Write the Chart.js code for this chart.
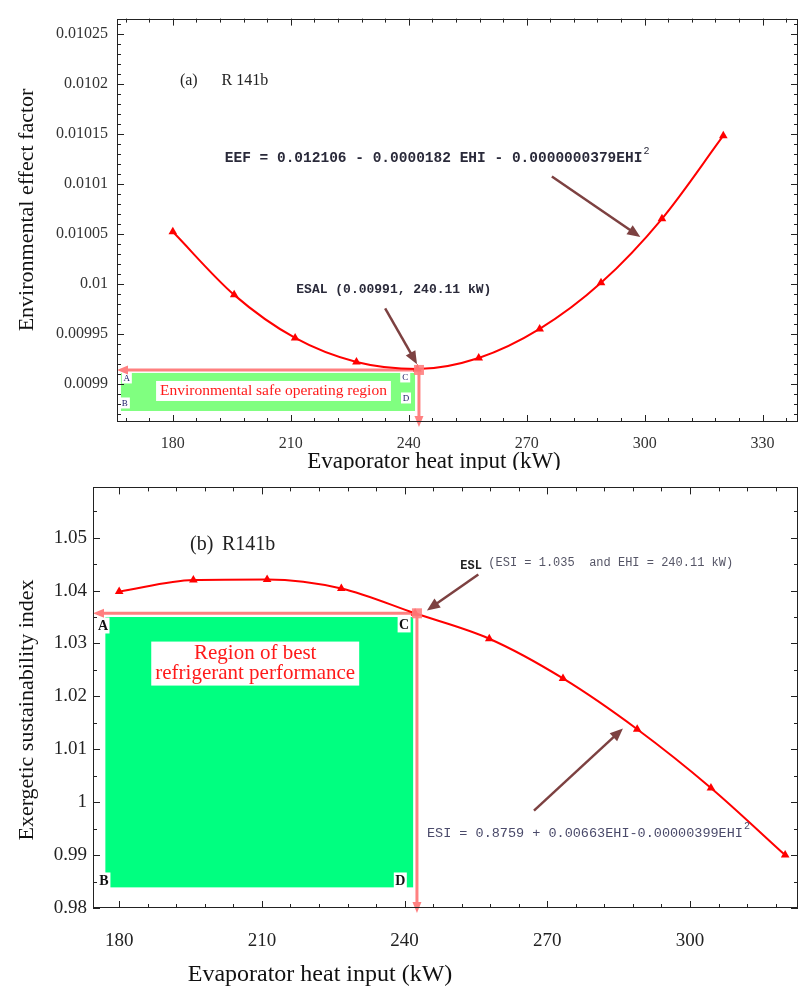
<!DOCTYPE html>
<html>
<head>
<meta charset="UTF-8">
<title>R141b EEF and ESI</title>
<script src="https://cdn.jsdelivr.net/npm/chart.js"></script>
<style>
  body { margin: 0; background: #fff; }
  #wrap { position: relative; width: 803px; height: 994px; }
  canvas { position: absolute; left: 0; }
</style>
</head>
<body>
<div id="wrap">
  <canvas id="eefChart" width="803" height="470" style="top:0px"></canvas>
  <canvas id="esiChart" width="803" height="524" style="top:470px"></canvas>
</div>
<script>
// evaporator heat input (kW), shared by both panels
var heatInput = [180, 195.6, 211.1, 226.7, 242.2, 257.8, 273.3, 288.9, 304.4, 320];
// (a) environmental effect factor
var eefValues = [0.010052, 0.009989, 0.009946, 0.009922, 0.009915, 0.009926, 0.009955, 0.010001, 0.010065, 0.010148];
// (b) exergetic sustainability index
var esiValues = [1.0398, 1.0420, 1.0421, 1.0404, 1.0357, 1.0309, 1.0234, 1.0138, 1.0027, 0.9900];

var eefXTicks = [180, 210, 240, 270, 300, 330];
var eefXLabels = ['180', '210', '240', '270', '300', '330'];
var eefYTicks = [0.0099, 0.00995, 0.01, 0.01005, 0.0101, 0.01015, 0.0102, 0.01025];
var eefYLabels = ['0.0099', '0.00995', '0.01', '0.01005', '0.0101', '0.01015', '0.0102', '0.01025'];

var esiXTicks = [180, 210, 240, 270, 300];
var esiXLabels = ['180', '210', '240', '270', '300'];
var esiYTicks = [0.98, 0.99, 1, 1.01, 1.02, 1.03, 1.04, 1.05];
var esiYLabels = ['0.98', '0.99', '1', '1.01', '1.02', '1.03', '1.04', '1.05'];

// safe operating points
var eefSafePoint = { x: 242.6, y: 0.009914 };
var esiSafePoint = { x: 242.6, y: 1.0357 };

var SERIF = '"Liberation Serif", "DejaVu Serif", serif';
var MONO = '"Liberation Mono", "DejaVu Sans Mono", monospace';

function toPx(chart, x, y) {
    return [chart.scales.x.getPixelForValue(x), chart.scales.y.getPixelForValue(y)];
}

function arrowHead(ctx, x1, y1, x2, y2, len, half, color) {
    var ang = Math.atan2(y2 - y1, x2 - x1);
    ctx.fillStyle = color;
    ctx.beginPath();
    ctx.moveTo(x2, y2);
    ctx.lineTo(x2 - len * Math.cos(ang) + half * Math.sin(ang), y2 - len * Math.sin(ang) - half * Math.cos(ang));
    ctx.lineTo(x2 - len * Math.cos(ang) - half * Math.sin(ang), y2 - len * Math.sin(ang) + half * Math.cos(ang));
    ctx.closePath();
    ctx.fill();
}

function arrow(ctx, p1, p2, color, width) {
    ctx.save();
    ctx.strokeStyle = color;
    ctx.lineWidth = width;
    var ang = Math.atan2(p2[1] - p1[1], p2[0] - p1[0]);
    ctx.beginPath();
    ctx.moveTo(p1[0], p1[1]);
    ctx.lineTo(p2[0] - 8 * Math.cos(ang), p2[1] - 8 * Math.sin(ang));
    ctx.stroke();
    arrowHead(ctx, p1[0], p1[1], p2[0], p2[1], 13, 5.5, color);
    ctx.restore();
}

function text(ctx, str, x, y, font, color, align) {
    ctx.save();
    ctx.font = font;
    ctx.fillStyle = color;
    ctx.textAlign = align || 'left';
    ctx.textBaseline = 'middle';
    ctx.fillText(str, x, y);
    var w = ctx.measureText(str).width;
    ctx.restore();
    return w;
}

function letterBox(ctx, ch, p, size, font, color) {
    ctx.fillStyle = '#fff';
    ctx.fillRect(p[0] - size[0] / 2, p[1] - size[1] / 2, size[0], size[1]);
    text(ctx, ch, p[0], p[1] + 1, font, color, 'center');
}

// frame with inward major and minor ticks on all four sides
var framePlugin = {
    id: 'frame',
    afterDraw: function (chart, args, opts) {
        var ctx = chart.ctx, a = chart.chartArea;
        ctx.save();
        ctx.strokeStyle = '#222';
        ctx.lineWidth = 1;
        ctx.strokeRect(Math.round(a.left) + 0.5, Math.round(a.top) + 0.5,
            Math.round(a.right - a.left) - 1, Math.round(a.bottom - a.top) - 1);
        ['x', 'y'].forEach(function (id) {
            var sc = chart.scales[id];
            var majors = sc.ticks.map(function (t) { return t.value; });
            var step = majors[1] - majors[0];
            var n = opts[id + 'Minor'];
            var minor = step / n;
            for (var k = -3 * n; k <= (majors.length + 3) * n; k++) {
                var v = majors[0] + k * minor;
                if (v < sc.min || v > sc.max) continue;
                var len = (k % n === 0) ? 7 : 4;
                var p = Math.round(sc.getPixelForValue(v)) + 0.5;
                ctx.beginPath();
                if (id === 'x') {
                    ctx.moveTo(p, a.bottom); ctx.lineTo(p, a.bottom - len);
                    ctx.moveTo(p, a.top); ctx.lineTo(p, a.top + len);
                } else {
                    ctx.moveTo(a.left, p); ctx.lineTo(a.left + len, p);
                    ctx.moveTo(a.right, p); ctx.lineTo(a.right - len, p);
                }
                ctx.stroke();
            }
        });
        // axis titles
        var t = opts.titles;
        text(ctx, t.x.text, t.x.cx, t.x.cy, t.x.font, '#111', 'center');
        ctx.save();
        ctx.translate(t.y.cx, t.y.cy);
        ctx.rotate(-Math.PI / 2);
        text(ctx, t.y.text, 0, 0, t.y.font, '#111', 'center');
        ctx.restore();
        ctx.restore();
    }
};

// shaded region, safe-point guide lines and annotations
var regionPlugin = {
    id: 'region',
    beforeDatasetsDraw: function (chart, args, o) {
        var ctx = chart.ctx, a = chart.chartArea;
        ctx.save();
        var g1 = toPx(chart, o.green[0], o.green[1]);
        var g2 = toPx(chart, o.green[2], o.green[3]);
        ctx.fillStyle = o.greenColor;
        ctx.fillRect(g1[0], g1[1], g2[0] - g1[0], g2[1] - g1[1]);

        o.letters.forEach(function (l) {
            letterBox(ctx, l[0], toPx(chart, l[1], l[2]), o.letterBox, o.letterFont, o.letterColor);
        });

        // label of the region on a white box
        ctx.font = o.regionFont;
        var c = toPx(chart, o.regionAt[0], o.regionAt[1]);
        var wMax = 0;
        o.regionText.forEach(function (s) { wMax = Math.max(wMax, ctx.measureText(s).width); });
        var lh = o.regionLine;
        var hTot = lh * o.regionText.length;
        ctx.fillStyle = '#fff';
        ctx.fillRect(c[0] - wMax / 2 - 4, c[1] - hTot / 2 - 2, wMax + 8, hTot + 4);
        o.regionText.forEach(function (s, i) {
            text(ctx, s, c[0], c[1] - hTot / 2 + lh * (i + 0.5), o.regionFont, '#ff1a1a', 'center');
        });

        // pink guide lines
        var sp = toPx(chart, o.safe.x, o.safe.y);
        var pink = '#ff8080';
        ctx.strokeStyle = pink;
        ctx.lineWidth = 3;
        ctx.beginPath();
        ctx.moveTo(sp[0], sp[1]); ctx.lineTo(a.left + 8, sp[1]);
        ctx.moveTo(sp[0], sp[1]); ctx.lineTo(sp[0], a.bottom - 4);
        ctx.stroke();
        arrowHead(ctx, sp[0], sp[1], a.left, sp[1], 11, 4.5, pink);
        arrowHead(ctx, sp[0], sp[1], sp[0], a.bottom + 5, 11, 4.5, pink);
        ctx.restore();
    },
    afterDatasetsDraw: function (chart, args, o) {
        var ctx = chart.ctx;
        ctx.save();
        var sp = toPx(chart, o.safe.x, o.safe.y);
        ctx.fillStyle = 'rgba(255,128,128,0.9)';
        ctx.fillRect(sp[0] - 5, sp[1] - 5, 10, 10);

        o.arrows.forEach(function (r) {
            arrow(ctx, toPx(chart, r[0], r[1]), toPx(chart, r[2], r[3]), '#7d4141', 2.5);
        });
        o.notes.forEach(function (n) {
            var p = toPx(chart, n.x, n.y);
            var w = text(ctx, n.text, p[0], p[1], n.font, n.color, 'left');
            if (n.sup) {
                text(ctx, n.sup, p[0] + w + 1, p[1] - 7, n.supFont, n.color, 'left');
            }
        });
        ctx.restore();
    }
};

function makeChart(id, values, cfg) {
    var points = [];
    for (var i = 0; i < heatInput.length; i++) {
        points.push({ x: heatInput[i], y: values[i] });
    }
    return new Chart(document.getElementById(id).getContext('2d'), {
        type: 'line',
        data: {
            datasets: [{
                data: points,
                borderColor: '#ff0000',
                backgroundColor: '#ff0000',
                borderWidth: 2,
                pointStyle: 'triangle',
                pointRadius: 5,
                pointBorderWidth: 0,
                cubicInterpolationMode: 'monotone',
                fill: false
            }]
        },
        options: {
            responsive: false,
            animation: false,
            devicePixelRatio: 1,
            layout: { padding: cfg.padding },
            plugins: {
                legend: { display: false },
                tooltip: { enabled: false },
                frame: cfg.frame,
                region: cfg.region
            },
            scales: {
                x: {
                    type: 'linear',
                    min: cfg.xMin, max: cfg.xMax,
                    grid: { display: false, drawTicks: false, tickLength: 0 },
                    border: { display: false },
                    afterBuildTicks: function (sc) { sc.ticks = cfg.xTicks.map(function (v) { return { value: v }; }); },
                    afterFit: function (sc) { sc.height = cfg.xHeight; },
                    ticks: {
                        autoSkip: false, maxRotation: 0,
                        padding: cfg.xPad,
                        color: cfg.tickColor,
                        font: { family: SERIF, size: cfg.tickSize },
                        callback: function (v, i) { return cfg.xLabels[i]; }
                    }
                },
                y: {
                    min: cfg.yMin, max: cfg.yMax,
                    grid: { display: false, drawTicks: false, tickLength: 0 },
                    border: { display: false },
                    afterBuildTicks: function (sc) { sc.ticks = cfg.yTicks.map(function (v) { return { value: v }; }); },
                    afterFit: function (sc) { sc.width = cfg.yWidth; },
                    ticks: {
                        autoSkip: false,
                        padding: cfg.yPad,
                        color: cfg.tickColor,
                        font: { family: SERIF, size: cfg.tickSize },
                        callback: function (v, i) { return cfg.yLabels[i]; }
                    }
                }
            }
        },
        plugins: [framePlugin, regionPlugin]
    });
}

makeChart('eefChart', eefValues, {
    padding: { top: 10, right: 3, left: 0, bottom: 0 },
    xMin: 165.8, xMax: 339, yMin: 0.009862, yMax: 0.010265,
    xTicks: eefXTicks, xLabels: eefXLabels, yTicks: eefYTicks, yLabels: eefYLabels,
    xHeight: 48, yWidth: 117, xPad: 12, yPad: 9, tickSize: 16, tickColor: '#333',
    frame: {
        xMinor: 5, yMinor: 5,
        titles: {
            x: { text: 'Evaporator heat input (kW)', cx: 434, cy: 462, font: '23px ' + SERIF },
            y: { text: 'Environmental effect factor', cx: 27, cy: 210, font: '22px ' + SERIF }
        }
    },
    region: {
        green: [166.8, 0.009911, 241.6, 0.009873],
        greenColor: '#80ff80',
        safe: eefSafePoint,
        letters: [['A', 168.3, 0.009906], ['B', 167.8, 0.009881], ['C', 239.1, 0.009907], ['D', 239.3, 0.009886]],
        letterBox: [10, 11], letterFont: '9px ' + SERIF, letterColor: '#1a1a66',
        regionText: ['Environmental safe operating region'],
        regionAt: [205.6, 0.009893], regionFont: '15.5px ' + SERIF, regionLine: 16,
        arrows: [[276.4, 0.0101072, 298.9, 0.0100468], [234.0, 0.0099755, 242.1, 0.0099198]],
        notes: [
            { text: '(a)', x: 181.8, y: 0.010203, font: '16px ' + SERIF, color: '#222' },
            { text: 'R 141b', x: 192.4, y: 0.010203, font: '16px ' + SERIF, color: '#222' },
            { text: 'EEF = 0.012106 - 0.0000182 EHI - 0.0000000379EHI', sup: '2', x: 193.2, y: 0.010125,
              font: 'bold 14.5px ' + MONO, supFont: '10px ' + MONO, color: '#2a2a3a' },
            { text: 'ESAL (0.00991, 240.11 kW)', x: 211.4, y: 0.009994, font: 'bold 13px ' + MONO, color: '#2a2a3a' }
        ]
    }
});

makeChart('esiChart', esiValues, {
    padding: { top: 7, right: 5, left: 0, bottom: 0 },
    xMin: 174.5, xMax: 322.7, yMin: 0.98, yMax: 1.0595,
    xTicks: esiXTicks, xLabels: esiXLabels, yTicks: esiYTicks, yLabels: esiYLabels,
    xHeight: 86, yWidth: 93, xPad: 22, yPad: 6, tickSize: 19, tickColor: '#222',
    frame: {
        xMinor: 5, yMinor: 2,
        titles: {
            x: { text: 'Evaporator heat input (kW)', cx: 320, cy: 505, font: '24px ' + SERIF },
            y: { text: 'Exergetic sustainability index', cx: 27, cy: 240, font: '22px ' + SERIF }
        }
    },
    region: {
        green: [177.1, 1.0350, 241.8, 0.9839],
        greenColor: '#00ff80',
        safe: esiSafePoint,
        letters: [['A', 176.6, 1.0334], ['B', 176.8, 0.9852], ['C', 239.9, 1.0336], ['D', 239.1, 0.9852]],
        letterBox: [13, 16], letterFont: 'bold 14px ' + SERIF, letterColor: '#111',
        regionText: ['Region of best', 'refrigerant performance'],
        regionAt: [208.6, 1.0262], regionFont: '21px ' + SERIF, regionLine: 20,
        arrows: [[255.5, 1.04304, 244.7, 1.03625], [267.2, 0.99839, 285.9, 1.01393]],
        notes: [
            { text: '(b)', x: 194.9, y: 1.04875, font: '20px ' + SERIF, color: '#222' },
            { text: 'R141b', x: 201.6, y: 1.04875, font: '20px ' + SERIF, color: '#222' },
            { text: 'ESL', x: 251.7, y: 1.04464, font: 'bold 12px ' + MONO, color: '#222' },
            { text: '(ESI = 1.035  and EHI = 240.11 kW)', x: 257.6, y: 1.04518, font: '12px ' + MONO, color: '#555566' },
            { text: 'ESI = 0.8759 + 0.00663EHI-0.00000399EHI', sup: '2', x: 244.7, y: 0.99411,
              font: '13.5px ' + MONO, supFont: '10px ' + MONO, color: '#4a4a6a' }
        ]
    }
});
</script>
</body>
</html>
